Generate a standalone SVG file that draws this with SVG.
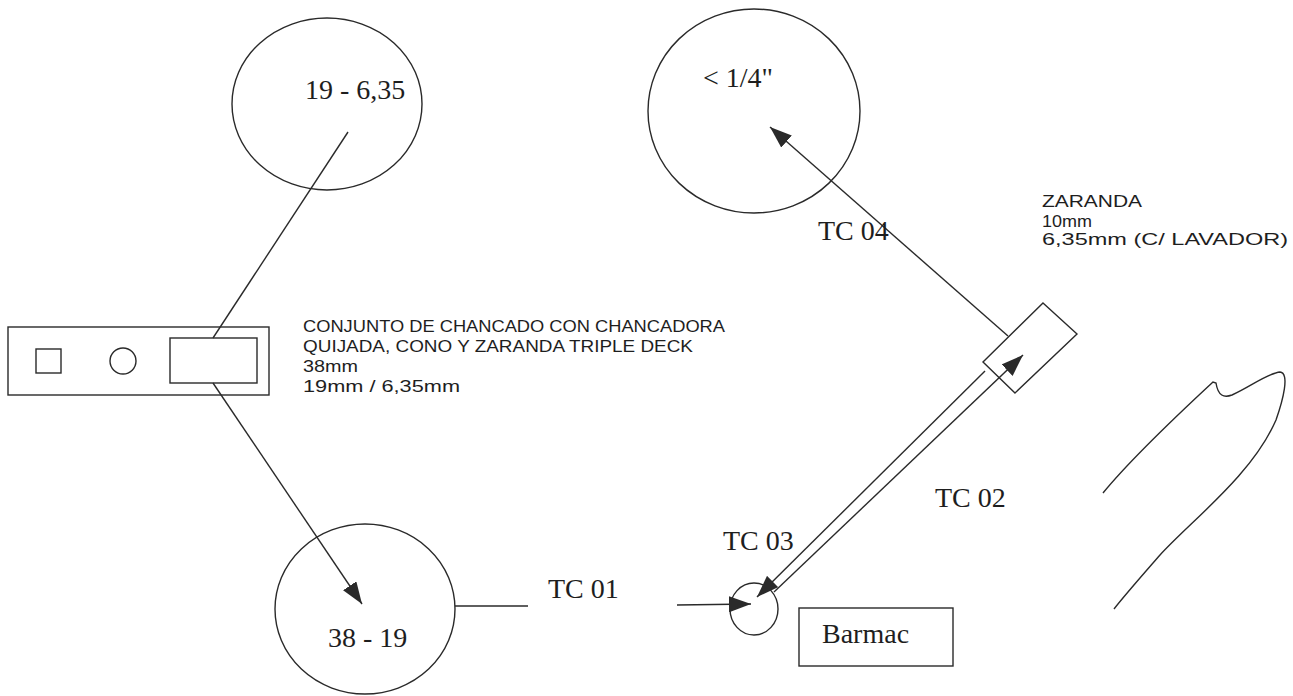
<svg xmlns="http://www.w3.org/2000/svg" width="1293" height="696" viewBox="0 0 1293 696">
<style>
.sh{fill:none;stroke:#2a2a2a;stroke-width:1.4}
.ln{fill:none;stroke:#2a2a2a;stroke-width:1.4}
.tr{font-family:"Liberation Serif",serif;font-size:28px;fill:#1e1e1e}
.ar{font-family:"Liberation Sans",sans-serif;font-size:17px;fill:#1e1e1e}
</style>
<defs>
<marker id="ah" viewBox="0 0 22 16" refX="22" refY="8" markerWidth="22" markerHeight="16" markerUnits="userSpaceOnUse" orient="auto">
<path d="M0,0 L22,8 L0,16 z" fill="#2a2a2a"/>
</marker>
</defs>
<rect width="1293" height="696" fill="#fff"/>

<g id="node-19-635">
<ellipse class="sh" cx="327" cy="104" rx="95" ry="86"/>
<text class="tr" x="305" y="99">19 - 6,35</text>
</g>

<g id="node-quarter">
<ellipse class="sh" cx="754" cy="111" rx="106" ry="102"/>
<text class="tr" x="703" y="87">&lt; 1/4"</text>
</g>

<g id="node-conjunto">
<rect class="sh" x="8" y="327" width="261" height="68"/>
<rect class="sh" x="36" y="349" width="25" height="24"/>
<circle class="sh" cx="123" cy="361" r="13"/>
<rect class="sh" x="170" y="338" width="87" height="45"/>
<text class="ar" x="303" y="332" textLength="422" lengthAdjust="spacingAndGlyphs">CONJUNTO DE CHANCADO CON CHANCADORA</text>
<text class="ar" x="303" y="352" textLength="390" lengthAdjust="spacingAndGlyphs">QUIJADA, CONO Y ZARANDA TRIPLE DECK</text>
<text class="ar" x="303" y="372" textLength="55" lengthAdjust="spacingAndGlyphs">38mm</text>
<text class="ar" x="303" y="392" textLength="157" lengthAdjust="spacingAndGlyphs">19mm / 6,35mm</text>
</g>

<g id="node-38-19">
<ellipse class="sh" cx="365" cy="609" rx="90" ry="85"/>
<text class="tr" x="328" y="647">38 - 19</text>
</g>

<g id="node-barmac-feed">
<ellipse class="sh" cx="754" cy="609" rx="24" ry="26"/>
</g>

<g id="node-barmac">
<rect class="sh" x="799" y="608" width="154" height="58"/>
<text class="tr" x="822" y="643">Barmac</text>
</g>

<g id="node-zaranda">
<polygon class="sh" points="1043,303 1077,334 1015,393 983,362"/>
<text class="ar" x="1042" y="207" textLength="100" lengthAdjust="spacingAndGlyphs">ZARANDA</text>
<text class="ar" x="1042" y="227" textLength="50" lengthAdjust="spacingAndGlyphs">10mm</text>
<text class="ar" x="1042" y="245" textLength="246" lengthAdjust="spacingAndGlyphs">6,35mm (C/ LAVADOR)</text>
</g>

<g id="connectors">
<line class="ln" x1="348" y1="132" x2="213" y2="338"/>
<line class="ln" x1="213" y1="383" x2="362" y2="604" marker-end="url(#ah)"/>
<line class="ln" x1="455" y1="606" x2="528" y2="606"/>
<line class="ln" x1="677" y1="605" x2="751" y2="604" marker-end="url(#ah)"/>
<line class="ln" x1="985" y1="371" x2="757" y2="597" marker-end="url(#ah)"/>
<line class="ln" x1="774" y1="592" x2="1023" y2="355" marker-end="url(#ah)"/>
<line class="ln" x1="1008" y1="336" x2="770" y2="127" marker-end="url(#ah)"/>
<text class="tr" x="548" y="598">TC 01</text>
<text class="tr" x="723" y="550">TC 03</text>
<text class="tr" x="935" y="507">TC 02</text>
<text class="tr" x="818" y="240">TC 04</text>
</g>

<path class="ln" stroke-width="1.2" d="M1103,493 C1130,460 1172,420 1213,382 L1216,383 C1218,396 1224,398 1232,395 C1250,387 1268,373 1280,372 C1290,373 1283,400 1276,420 C1252,475 1192,520 1160,555 C1140,578 1125,595 1114,609"/>
</svg>
